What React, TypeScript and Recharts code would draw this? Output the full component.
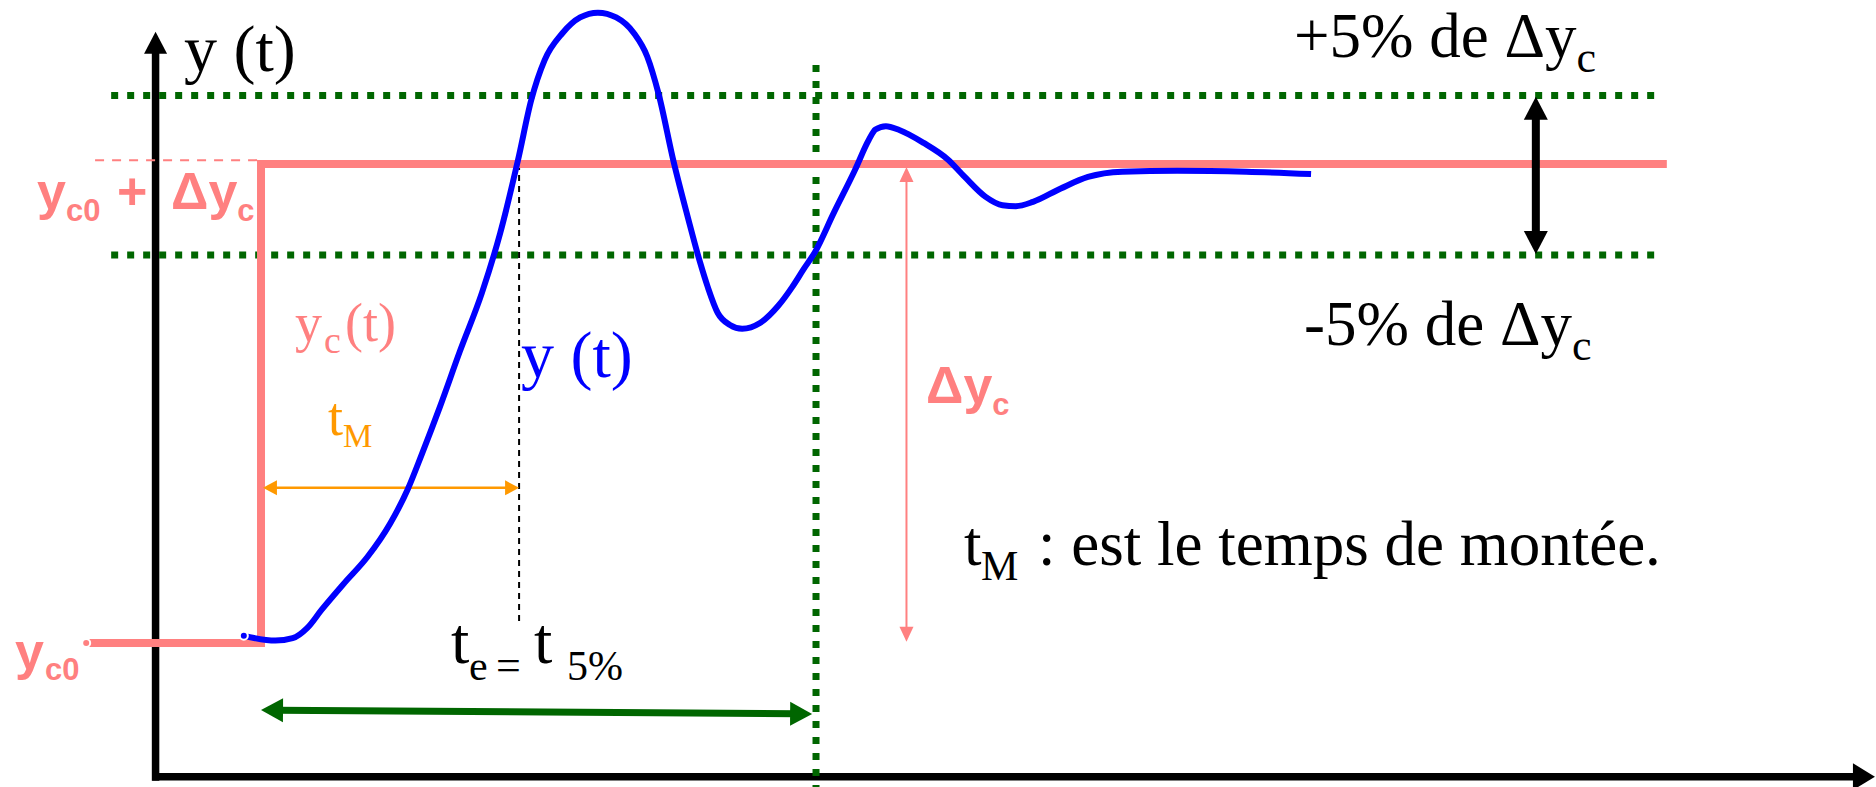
import React from 'react';
import { ComposedChart, Line, XAxis, YAxis, ReferenceLine, ReferenceDot } from 'recharts';

// Time is in units where the 5 % settling time equals 10; output is normalised so yc0 = 0 and yc0 + Δyc = 1.
const responseT = [-0.31, 0.26, 0.57, 0.83, 1.09, 1.5, 1.92, 2.33, 2.64, 2.9, 3.22, 3.58, 3.98, 4.31, 4.63, 4.87, 5.11, 5.43, 5.75, 6.07, 6.4, 6.72, 6.96, 7.16, 7.44, 7.69, 7.91, 8.05, 8.23, 8.45, 8.67, 8.99, 9.32, 9.57, 9.78, 9.98, 10.32, 10.7, 10.95, 11.07, 11.26, 11.5, 11.94, 12.37, 12.68, 13.05, 13.36, 13.6, 13.91, 14.41, 14.9, 15.52, 16.51, 17.75, 18.92];
const responseY = [0.015, 0.005, 0.01, 0.031, 0.069, 0.125, 0.18, 0.25, 0.32, 0.395, 0.492, 0.608, 0.731, 0.856, 1.008, 1.134, 1.217, 1.273, 1.306, 1.316, 1.306, 1.273, 1.224, 1.148, 1.002, 0.889, 0.795, 0.743, 0.689, 0.664, 0.656, 0.668, 0.704, 0.743, 0.781, 0.816, 0.898, 0.987, 1.05, 1.072, 1.079, 1.071, 1.044, 1.01, 0.973, 0.932, 0.914, 0.912, 0.921, 0.949, 0.973, 0.984, 0.986, 0.984, 0.979];

// Setpoint step yc(t)
const setpointT = [-3.15, 0, 0, 25.33];
const setpointY = [0, 0, 1, 1];

// Tolerance band and characteristic times
const bandUpper = 1.143;
const bandLower = 0.81;
const bandStartT = -2.7;
const bandEndT = 25.13;
const tRise = 4.65;
const tSettle = 10;

// Axis extents
const tMin = -4.703;
const tMax = 29.099;
const yMin = -0.3006;
const yMax = 1.3424;
const axisT = -1.9;
const axisY = -0.279;

const responseData = responseT.map((t, i) => ({ t, y: responseY[i] }));
const setpointData = setpointT.map((t, i) => ({ t, y: setpointY[i] }));

const PINK = '#FF8080';
const GREEN = '#006600';
const ORANGE = '#FF9900';
const BLUE = '#0000FF';
const SERIF = '"Liberation Serif", "Times New Roman", serif';
const SANS = '"Liberation Sans", Arial, sans-serif';

type ArrowStyle = { color: string; width: number; headLen: number; headW: number; start?: boolean; end?: boolean };

function makeArrow(s: ArrowStyle) {
  return (p: any) => {
    const x1 = Number(p.x1), y1 = Number(p.y1), x2 = Number(p.x2), y2 = Number(p.y2);
    const dx = x2 - x1, dy = y2 - y1;
    const len = Math.hypot(dx, dy) || 1;
    const ux = dx / len, uy = dy / len;
    const nx = -uy, ny = ux;
    const back = s.headLen * 0.7;
    const sx = s.start ? x1 + ux * back : x1;
    const sy = s.start ? y1 + uy * back : y1;
    const ex = s.end ? x2 - ux * back : x2;
    const ey = s.end ? y2 - uy * back : y2;
    const hw = s.headW / 2;
    const head = (tx: number, ty: number, dir: number) => {
      const bx = tx - dir * ux * s.headLen;
      const by = ty - dir * uy * s.headLen;
      return `${tx},${ty} ${bx + nx * hw},${by + ny * hw} ${bx - nx * hw},${by - ny * hw}`;
    };
    return (
      <g>
        <line x1={sx} y1={sy} x2={ex} y2={ey} stroke={s.color} strokeWidth={s.width} />
        {s.start && <polygon points={head(x1, y1, -1)} fill={s.color} />}
        {s.end && <polygon points={head(x2, y2, 1)} fill={s.color} />}
      </g>
    );
  };
}

type Part = { text: string; dx?: number; dy: number; size: number };

function makeLabel(parts: Part[], color: string, family: string, weight: string = 'normal') {
  return (p: any) => (
    <text fill={color} fontFamily={family} fontWeight={weight} style={{ whiteSpace: 'pre' }}>
      {parts.map((q, i) => (
        <tspan key={i} x={q.dx === undefined ? undefined : p.cx + q.dx} y={p.cy + q.dy} fontSize={q.size}>
          {q.text}
        </tspan>
      ))}
    </text>
  );
}

export default function App() {
  return (
    <div style={{ position: 'absolute', left: 0, top: 0, width: 1876, height: 787, background: '#fff' }}>
      <ComposedChart width={1876} height={787} margin={{ top: 0, right: 0, bottom: 0, left: 0 }}>
        <XAxis type="number" dataKey="t" domain={[tMin, tMax]} allowDataOverflow hide />
        <YAxis type="number" dataKey="y" domain={[yMin, yMax]} allowDataOverflow hide />

        {/* axes */}
        <ReferenceLine
          ifOverflow="visible"
          segment={[{ x: axisT, y: -0.2875 }, { x: axisT, y: 1.2762 }]}
          shape={makeArrow({ color: '#000', width: 7.5, headLen: 22, headW: 23, end: true })}
        />
        <ReferenceLine
          ifOverflow="visible"
          segment={[{ x: -1.96, y: axisY }, { x: 29.08, y: axisY }]}
          shape={makeArrow({ color: '#000', width: 7.5, headLen: 22, headW: 27, end: true })}
        />

        {/* ±5 % band */}
        <ReferenceLine ifOverflow="visible" segment={[{ x: bandStartT, y: bandUpper }, { x: bandEndT, y: bandUpper }]} stroke={GREEN} strokeWidth={7} strokeDasharray="7 9" />
        <ReferenceLine ifOverflow="visible" segment={[{ x: bandStartT, y: bandLower }, { x: bandEndT, y: bandLower }]} stroke={GREEN} strokeWidth={7} strokeDasharray="7 9" />
        <ReferenceLine ifOverflow="visible" segment={[{ x: tSettle, y: 1.2067 }, { x: tSettle, y: yMin }]} stroke={GREEN} strokeWidth={7} strokeDasharray="7 9" />

        {/* guides */}
        <ReferenceLine ifOverflow="visible" segment={[{ x: -2.99, y: 1.008 }, { x: -0.07, y: 1.008 }]} stroke={PINK} strokeWidth={2} strokeDasharray="9 8" />
        <ReferenceLine ifOverflow="visible" segment={[{ x: tRise, y: 1 }, { x: tRise, y: 0.0445 }]} stroke="#000" strokeWidth={2} strokeDasharray="6 5" />

        {/* setpoint step */}
        <Line data={setpointData} dataKey="y" type="linear" stroke={PINK} strokeWidth={8} dot={false} isAnimationActive={false} strokeLinejoin="miter" />

        {/* dimension arrows */}
        <ReferenceLine
          ifOverflow="visible"
          segment={[{ x: 0.035, y: 0.324 }, { x: tRise, y: 0.324 }]}
          shape={makeArrow({ color: ORANGE, width: 2.5, headLen: 14, headW: 15, start: true, end: true })}
        />
        <ReferenceLine
          ifOverflow="visible"
          segment={[{ x: 0, y: -0.14 }, { x: 9.93, y: -0.148 }]}
          shape={makeArrow({ color: GREEN, width: 7, headLen: 22, headW: 24, start: true, end: true })}
        />
        <ReferenceLine
          ifOverflow="visible"
          segment={[{ x: 11.63, y: 0.994 }, { x: 11.63, y: 0.0027 }]}
          shape={makeArrow({ color: PINK, width: 2, headLen: 15, headW: 14, start: true, end: true })}
        />
        <ReferenceLine
          ifOverflow="visible"
          segment={[{ x: 22.97, y: 1.1405 }, { x: 22.97, y: 0.812 }]}
          shape={makeArrow({ color: '#000', width: 8, headLen: 23, headW: 24, start: true, end: true })}
        />

        {/* response y(t) */}
        <Line data={responseData} dataKey="y" type="monotone" stroke={BLUE} strokeWidth={6} dot={false} isAnimationActive={false} />

        {/* labels */}
        <ReferenceDot ifOverflow="visible" x={-1.387} y={1.194} r={0}
          shape={makeLabel([{ text: 'y (t)', dx: 0, dy: 0, size: 66 }], '#000', SERIF)} />
        <ReferenceDot ifOverflow="visible" x={18.613} y={1.2234} r={0}
          shape={makeLabel([{ text: '+5% de Δy', dx: 0, dy: 0, size: 63 }, { text: 'c', dy: 15, size: 44 }], '#000', SERIF)} />
        <ReferenceDot ifOverflow="visible" x={18.793} y={0.6221} r={0}
          shape={makeLabel([{ text: '-5% de Δy', dx: 0, dy: 0, size: 63 }, { text: 'c', dy: 15, size: 44 }], '#000', SERIF)} />
        <ReferenceDot ifOverflow="visible" x={-4.036} y={0.906} r={0}
          shape={makeLabel([
            { text: 'y', dx: 0, dy: 0, size: 52 },
            { text: 'c0', dx: 29, dy: 12, size: 31 },
            { text: '+', dx: 80, dy: 0, size: 52 },
            { text: 'Δy', dx: 134, dy: 0, size: 52 },
            { text: 'c', dy: 12, size: 31 },
          ], PINK, SANS, 'bold')} />
        <ReferenceDot ifOverflow="visible" x={-4.432} y={-0.0543} r={0}
          shape={makeLabel([
            { text: 'y', dx: 0, dy: 0, size: 52 },
            { text: 'c0', dx: 30, dy: 11, size: 31 },
          ], PINK, SANS, 'bold')} />
        <ReferenceDot ifOverflow="visible" x={0.6126} y={0.6313} r={0}
          shape={makeLabel([
            { text: 'y', dx: 0, dy: 0, size: 54 },
            { text: 'c', dx: 29, dy: 12, size: 38 },
            { text: '(t)', dx: 50, dy: 0, size: 54 },
          ], PINK, SERIF)} />
        <ReferenceDot ifOverflow="visible" x={4.685} y={0.5553} r={0}
          shape={makeLabel([{ text: 'y (t)', dx: 0, dy: 0, size: 66 }], BLUE, SERIF)} />
        <ReferenceDot ifOverflow="visible" x={1.207} y={0.4342} r={0}
          shape={makeLabel([
            { text: 't', dx: 0, dy: 0, size: 54 },
            { text: 'M', dx: 15, dy: 12, size: 33 },
          ], ORANGE, SERIF)} />
        <ReferenceDot ifOverflow="visible" x={3.423} y={-0.0418} r={0}
          shape={makeLabel([
            { text: 't', dx: 0, dy: 0, size: 66 },
            { text: 'e', dx: 18, dy: 17, size: 42 },
            { text: '=', dx: 45, dy: 17, size: 44 },
            { text: 't', dx: 83, dy: 0, size: 66 },
            { text: '5%', dx: 116, dy: 17, size: 42 },
          ], '#000', SERIF)} />
        <ReferenceDot ifOverflow="visible" x={11.982} y={0.501} r={0}
          shape={makeLabel([
            { text: 'Δy', dx: 0, dy: 0, size: 52 },
            { text: 'c', dy: 12, size: 31 },
          ], PINK, SANS, 'bold')} />
        <ReferenceDot ifOverflow="visible" x={12.667} y={0.1628} r={0}
          shape={makeLabel([
            { text: 't', dx: 0, dy: 0, size: 63 },
            { text: 'M', dx: 17, dy: 15, size: 42 },
            { text: ': est le temps de montée.', dx: 74, dy: 0, size: 63 },
          ], '#000', SERIF)} />
      </ComposedChart>
    </div>
  );
}
